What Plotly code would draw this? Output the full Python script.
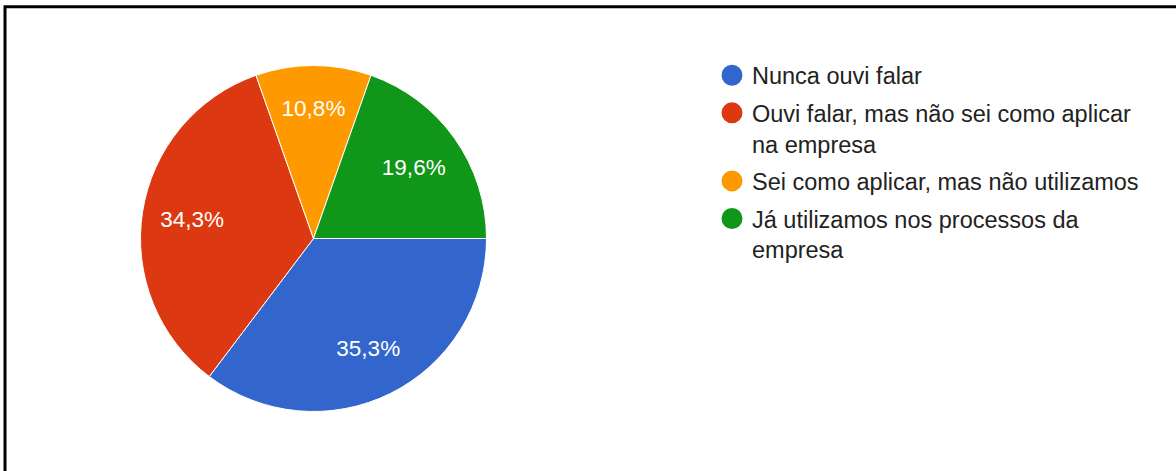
import plotly.graph_objects as go

# survey answers (Google Forms pie)
labels = [
    "Nunca ouvi falar",
    "Ouvi falar, mas não sei como aplicar<br>na empresa",
    "Sei como aplicar, mas não utilizamos",
    "Já utilizamos nos processos da<br>empresa",
]
counts = [36, 35, 11, 20]
colors = ["#3366CC", "#DC3912", "#FF9900", "#109618"]

W, H = 1176, 471
font = "Liberation Sans, Arial, sans-serif"
pie_domain = dict(x=[140.5 / W, 486.5 / W], y=[1 - 411.5 / H, 1 - 65.5 / H])

fig = go.Figure()

# the coloured pie itself
fig.add_trace(go.Pie(
    labels=labels,
    values=counts,
    sort=False,
    direction="clockwise",
    rotation=90,
    marker=dict(colors=colors, line=dict(color="white", width=1)),
    textinfo="none",
    domain=pie_domain,
    showlegend=False,
    hoverinfo="label+percent",
))

# transparent ring on top, only to push the percent labels outwards
fig.add_trace(go.Pie(
    labels=labels,
    values=counts,
    sort=False,
    direction="clockwise",
    rotation=90,
    hole=0.42,
    marker=dict(colors=["rgba(0,0,0,0)"] * len(counts),
                line=dict(color="rgba(0,0,0,0)", width=0)),
    textinfo="percent",
    textposition="inside",
    insidetextorientation="horizontal",
    textfont=dict(family=font, size=22.5, color="white"),
    domain=pie_domain,
    showlegend=False,
    hoverinfo="skip",
))

# legend with round markers, one group per answer so gaps can be set
for i, (lab, col) in enumerate(zip(labels, colors)):
    fig.add_trace(go.Scatter(
        x=[None], y=[None],
        mode="markers",
        name=lab,
        legendgroup=f"g{i}",
        marker=dict(symbol="circle", size=16, color=col,
                    line=dict(color=col, width=5)),
        showlegend=True,
    ))

fig.update_layout(
    width=W,
    height=H,
    margin=dict(l=0, r=0, t=0, b=0),
    paper_bgcolor="white",
    plot_bgcolor="white",
    separators=",.",
    xaxis=dict(visible=False),
    yaxis=dict(visible=False),
    legend=dict(
        x=712 / W,
        y=1 - 53.5 / H,
        xanchor="left",
        yanchor="top",
        traceorder="grouped",
        tracegroupgap=4,
        valign="top",
        font=dict(family=font, size=23.5, color="#222222"),
        bgcolor="rgba(0,0,0,0)",
    ),
    shapes=[dict(
        type="rect", xref="paper", yref="paper",
        x0=5 / W, x1=1.05, y0=-0.05, y1=1 - 6.7 / H,
        line=dict(color="black", width=3),
    )],
)

fig.write_html("out.html", config={"displayModeBar": False},
               post_script="document.body.style.margin='0';")
